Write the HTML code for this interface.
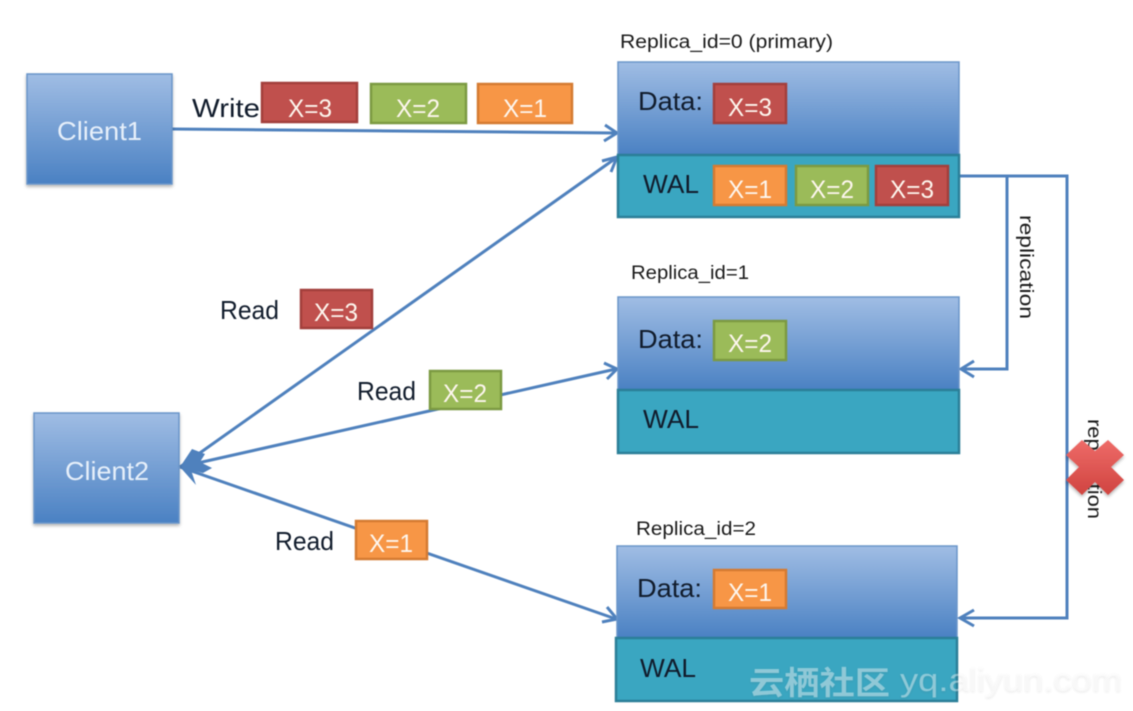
<!DOCTYPE html>
<html><head><meta charset="utf-8"><style>
html,body{margin:0;padding:0;background:#fff;width:1133px;height:711px;overflow:hidden}
svg{display:block;filter:blur(.45px)}
text{font-family:"Liberation Sans",sans-serif}
.w{fill:#e6effa;font-size:26px}
.c{fill:#fdf6ee;font-size:25px;text-anchor:middle}
.k{fill:#111c2c;font-size:26px}
.s{fill:#1a1a1a;font-size:19px}
.l{stroke:#4f81bd;stroke-width:3;fill:none}
.r{fill:#c0504d;stroke:#a33f3c;stroke-width:2.5}
.g{fill:#9bbb59;stroke:#7c9a42;stroke-width:2.5}
.o{fill:#f79646;stroke:#d57b32;stroke-width:2.5}
.b{fill:url(#bg);stroke:#6a95c9;stroke-width:1.5}
.t{fill:#3aa6c1;stroke:#2b7f98;stroke-width:2.5}
</style></head><body>
<svg width="1133" height="711" viewBox="0 0 1133 711" xmlns="http://www.w3.org/2000/svg">
<defs>
<linearGradient id="bg" x1="0" y1="0" x2="0" y2="1"><stop offset="0" stop-color="#a0bde4"/><stop offset="1" stop-color="#4a81c3"/></linearGradient>
<linearGradient id="bx" x1="0" y1="0" x2="0" y2="1"><stop offset="0" stop-color="#ee6b68"/><stop offset="1" stop-color="#d04440"/></linearGradient>
<filter id="sh" x="-10%" y="-10%" width="120%" height="125%"><feDropShadow dx="0" dy="2" stdDeviation="1.5" flood-color="#000" flood-opacity=".3"/></filter>
<filter id="wm" x="-5%" y="-20%" width="110%" height="140%"><feDropShadow dx="0" dy="1" stdDeviation="1" flood-color="#555" flood-opacity=".35"/></filter>
</defs>

<!-- connectors -->
<path class="l" d="M172 129 L616 133"/>
<path class="l" d="M605 125 L617 133 L604 141"/>
<path class="l" d="M180 467 L616 158"/>
<path class="l" d="M602 161 L617 157 L611 172"/>
<path class="l" d="M180 467 L616 369"/>
<path class="l" d="M604 363 L617 369 L607 379"/>
<path class="l" d="M180 467 L616 619"/>
<path class="l" d="M607 607 L617 619 L602 622"/>
<path d="M192 449 L205 454 L200 462 L212 468 L203 473 L191 470 L196 485 L180 467 Z" fill="#4f81bd"/>
<path class="l" d="M959 176 L1067 176 L1067 618 L960 618"/>
<path class="l" d="M1007 176 L1007 369 L961 369"/>
<path class="l" d="M974 361 L961 369 L974 377"/>
<path class="l" d="M974 610 L960 618 L974 626"/>

<!-- clients -->
<rect class="b" x="27" y="74" width="145" height="110" filter="url(#sh)"/>
<text class="w" x="57" y="140" textLength="85" lengthAdjust="spacingAndGlyphs">Client1</text>
<rect class="b" x="34" y="413" width="145" height="110" filter="url(#sh)"/>
<text class="w" x="65" y="480" textLength="84" lengthAdjust="spacingAndGlyphs">Client2</text>

<!-- primary -->
<text class="s" x="620" y="48" textLength="213" lengthAdjust="spacingAndGlyphs">Replica_id=0 (primary)</text>
<rect class="b" x="618" y="62" width="341" height="93"/>
<rect class="t" x="618" y="155" width="341" height="62"/>
<text class="k" x="638" y="110" textLength="65" lengthAdjust="spacingAndGlyphs">Data:</text>
<text class="k" x="643" y="193" textLength="56" lengthAdjust="spacingAndGlyphs">WAL</text>

<!-- replica 1 -->
<text class="s" x="631" y="279" textLength="118" lengthAdjust="spacingAndGlyphs">Replica_id=1</text>
<rect class="b" x="618" y="297" width="341" height="93"/>
<rect class="t" x="618" y="390" width="341" height="63"/>
<text class="k" x="638" y="348" textLength="65" lengthAdjust="spacingAndGlyphs">Data:</text>
<text class="k" x="643" y="428" textLength="56" lengthAdjust="spacingAndGlyphs">WAL</text>

<!-- replica 2 -->
<text class="s" x="636" y="535" textLength="120" lengthAdjust="spacingAndGlyphs">Replica_id=2</text>
<rect class="b" x="617" y="546" width="340" height="92"/>
<rect class="t" x="616" y="638" width="341" height="63"/>
<text class="k" x="637" y="597" textLength="65" lengthAdjust="spacingAndGlyphs">Data:</text>
<text class="k" x="640" y="677" textLength="56" lengthAdjust="spacingAndGlyphs">WAL</text>

<!-- chips -->
<rect class="r" x="262" y="83" width="95" height="39"/><text class="c" x="310" y="117" textLength="44" lengthAdjust="spacingAndGlyphs">X=3</text>
<rect class="g" x="371" y="84" width="95" height="39"/><text class="c" x="418" y="117" textLength="44" lengthAdjust="spacingAndGlyphs">X=2</text>
<rect class="o" x="478" y="84" width="94" height="39"/><text class="c" x="525" y="117" textLength="44" lengthAdjust="spacingAndGlyphs">X=1</text>

<rect class="r" x="714" y="84" width="72" height="39"/><text class="c" x="750" y="116" textLength="44" lengthAdjust="spacingAndGlyphs">X=3</text>
<rect class="o" x="714" y="166" width="72" height="39"/><text class="c" x="750" y="198" textLength="44" lengthAdjust="spacingAndGlyphs">X=1</text>
<rect class="g" x="796" y="166" width="72" height="39"/><text class="c" x="832" y="198" textLength="44" lengthAdjust="spacingAndGlyphs">X=2</text>
<rect class="r" x="876" y="166" width="72" height="39"/><text class="c" x="912" y="198" textLength="44" lengthAdjust="spacingAndGlyphs">X=3</text>
<rect class="g" x="714" y="321" width="72" height="39"/><text class="c" x="750" y="352" textLength="44" lengthAdjust="spacingAndGlyphs">X=2</text>
<rect class="o" x="714" y="570" width="72" height="38"/><text class="c" x="750" y="601" textLength="44" lengthAdjust="spacingAndGlyphs">X=1</text>

<rect class="r" x="301" y="290" width="71" height="38"/><text class="c" x="336" y="321" textLength="44" lengthAdjust="spacingAndGlyphs">X=3</text>
<rect class="g" x="430" y="371" width="71" height="38"/><text class="c" x="465" y="402" textLength="44" lengthAdjust="spacingAndGlyphs">X=2</text>
<rect class="o" x="356" y="521" width="71" height="38"/><text class="c" x="391" y="552" textLength="44" lengthAdjust="spacingAndGlyphs">X=1</text>

<!-- free labels -->
<text class="k" x="192" y="117" textLength="68" lengthAdjust="spacingAndGlyphs">Write</text>
<text class="k" x="220" y="319" textLength="59" lengthAdjust="spacingAndGlyphs">Read</text>
<text class="k" x="357" y="400" textLength="59" lengthAdjust="spacingAndGlyphs">Read</text>
<text class="k" x="275" y="550" textLength="59" lengthAdjust="spacingAndGlyphs">Read</text>

<text class="s" transform="translate(1020 215) rotate(90)" textLength="104" lengthAdjust="spacingAndGlyphs">replication</text>
<text class="s" transform="translate(1088 419) rotate(90)" textLength="100" lengthAdjust="spacingAndGlyphs">replication</text>

<!-- red X -->
<path d="M1082 440 L1095 451 L1108 440 L1124 455 L1111 467 L1124 480 L1108 495 L1095 482 L1082 495 L1066 480 L1079 467 L1066 455 Z" fill="url(#bx)" filter="url(#sh)"/>

<!-- watermark -->
<g filter="url(#wm)">
<text x="749" y="694" font-size="32" font-weight="700" fill="#fff" fill-opacity=".4" style='font-family:"Liberation Sans","Noto Sans CJK SC",sans-serif' textLength="141" lengthAdjust="spacingAndGlyphs">云栖社区</text>
<text x="900" y="691" font-size="32" fill="#fff" fill-opacity=".4" textLength="222" lengthAdjust="spacingAndGlyphs">yq.aliyun.com</text>
</g>
</svg>
</body></html>
